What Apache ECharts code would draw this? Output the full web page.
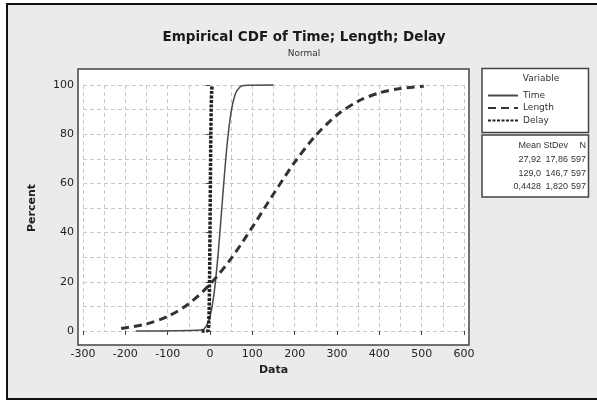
<!DOCTYPE html>
<html lang="en">

<head>
  <meta charset="UTF-8">
  <title>Empirical CDF</title>
  <script src="https://cdn.jsdelivr.net/npm/echarts@6/dist/echarts.min.js"></script>
  <style>
    body { margin: 0; background: #fff; }
  </style>
</head>

<body>
  <div id="main" style="width: 597px;height:401px;"></div>

  <script>
    // values (fitted normal CDFs, percent)
    let timeX = [-175, -20, -10, 0, 10, 20, 30, 40, 50, 60, 70, 80, 150];
    let timeY = [0, 0.4, 1.7, 5.9, 15.8, 32.9, 54.6, 75.1, 89.2, 96.4, 99.1, 99.8, 100];
    let lengthX = [-210, -150, -100, -50, 0, 50, 100, 150, 200, 250, 300, 350, 400, 450, 505];
    let lengthY = [1.0, 2.9, 5.9, 11.1, 19.0, 29.5, 42.2, 55.7, 68.6, 79.5, 87.8, 93.4, 96.8, 98.6, 99.5];
    let delayX = [-20, -5, -4, -3, -2, -1, 0, 1, 2, 3, 4, 5, 6, 7];
    let delayY = [0, 0.2, 0.7, 2.9, 9.0, 21.4, 40.4, 62.0, 80.4, 92.0, 97.5, 99.4, 99.9, 100];

    let xTicks = [-300, -200, -100, 0, 100, 200, 300, 400, 500, 600];

    // stats table
    let statHead = ['Mean', 'StDev', 'N'];
    let statMean = ['27,92', '129,0', '0,4428'];
    let statSd = ['17,86', '146,7', '1,820'];
    let statN = ['597', '597', '597'];

    function pairs(xs, ys) {
      return xs.map(function (x, i) { return [x, ys[i]]; });
    }

    var font = 'DejaVu Sans';
    var small = '9px Liberation Sans';
    var myChart = echarts.init(document.getElementById('main'));

    var graphics = [
      // outer panel
      { type: 'rect', z: -20, shape: { x: 7, y: 4, width: 620, height: 395 },
        style: { fill: '#ebebeb', stroke: '#111', lineWidth: 2 } },
      // plot frame
      { type: 'rect', z: -10, shape: { x: 78, y: 69, width: 391, height: 276 },
        style: { fill: '#fff', stroke: '#444', lineWidth: 1.5 } },
      // legend box
      { type: 'rect', z: -10, shape: { x: 482, y: 68.5, width: 106.5, height: 64 },
        style: { fill: '#fff', stroke: '#444', lineWidth: 1.5 } },
      { type: 'text', x: 541, y: 79, style: { text: 'Variable', fill: '#333', font: '9px ' + font, textAlign: 'center', textVerticalAlign: 'middle' } },
      // stats box
      { type: 'rect', z: -10, shape: { x: 482, y: 135, width: 106.5, height: 62 },
        style: { fill: '#fff', stroke: '#444', lineWidth: 1.5 } }
    ];

    var colRight = [541, 568, 586];
    var cols = [statMean, statSd, statN];
    statHead.forEach(function (h, j) {
      graphics.push({ type: 'text', x: colRight[j], y: 146,
        style: { text: h, fill: '#333', font: small, textAlign: 'right', textVerticalAlign: 'middle' } });
    });
    cols.forEach(function (col, j) {
      col.forEach(function (v, i) {
        graphics.push({ type: 'text', x: colRight[j], y: 160 + i * 13.3,
          style: { text: v, fill: '#333', font: small, textAlign: 'right', textVerticalAlign: 'middle' } });
      });
    });

    var option = {
      animation: false,
      textStyle: { fontFamily: font },
      title: {
        text: 'Empirical CDF of Time; Length; Delay',
        subtext: 'Normal',
        left: 299,
        textAlign: 'center',
        top: 25,
        itemGap: 5,
        textStyle: { fontSize: 13.5, fontWeight: 'bold', color: '#1a1a1a', fontFamily: font },
        subtextStyle: { fontSize: 9, color: '#333', fontFamily: font }
      },
      legend: {
        orient: 'vertical',
        left: 482,
        top: 86,
        itemGap: 3.5,
        itemWidth: 30,
        itemHeight: 10,
        itemStyle: { opacity: 0 },
        textStyle: { fontSize: 9, fontFamily: font, color: '#333' },
        data: ['Time', 'Length', 'Delay']
      },
      graphic: graphics,
      grid: { left: 83, right: 133, top: 85, bottom: 70 },
      xAxis: {
        type: 'value',
        min: -300,
        max: 600,
        interval: 100,
        offset: 14,
        name: 'Data',
        nameLocation: 'middle',
        nameGap: 16,
        nameTextStyle: { fontWeight: 'bold', fontSize: 11, color: '#222' },
        axisLine: { show: false },
        axisTick: { show: true, length: 4, lineStyle: { color: '#444' } },
        axisLabel: { fontSize: 11, color: '#222', margin: 4, customValues: xTicks },
        splitLine: { show: true, lineStyle: { color: '#c8c8c8', type: [4, 3] } },
        minorTick: { show: false, splitNumber: 2 },
        minorSplitLine: { show: true, lineStyle: { color: '#c8c8c8', type: [4, 3] } }
      },
      yAxis: {
        type: 'value',
        min: 0,
        max: 100,
        interval: 20,
        offset: 5,
        name: 'Percent',
        nameLocation: 'middle',
        nameGap: 40,
        nameTextStyle: { fontWeight: 'bold', fontSize: 11, color: '#222' },
        axisLine: { show: false },
        axisTick: { show: true, length: 4, lineStyle: { color: '#444' } },
        axisLabel: { fontSize: 11, color: '#222', margin: 4 },
        splitLine: { show: true, lineStyle: { color: '#c8c8c8', type: [4, 3] } },
        minorTick: { show: false, splitNumber: 2 },
        minorSplitLine: { show: true, lineStyle: { color: '#c8c8c8', type: [4, 3] } }
      },
      series: [{
        name: 'Time',
        type: 'line',
        smooth: 0.3,
        symbol: 'none',
        clip: false,
        lineStyle: { color: '#4a4a4a', width: 1.5 },
        itemStyle: { color: '#4a4a4a' },
        data: pairs(timeX, timeY)
      }, {
        name: 'Length',
        type: 'line',
        smooth: 0.3,
        symbol: 'none',
        clip: false,
        lineStyle: { color: '#333', width: 3, type: [8, 5] },
        itemStyle: { color: '#333' },
        data: pairs(lengthX, lengthY)
      }, {
        name: 'Delay',
        type: 'line',
        smooth: 0.3,
        symbol: 'none',
        clip: false,
        lineStyle: { color: '#222', width: 3.5, type: [3, 1.5] },
        itemStyle: { color: '#222' },
        data: pairs(delayX, delayY)
      }]
    };

    myChart.setOption(option);
  </script>
</body>

</html>
